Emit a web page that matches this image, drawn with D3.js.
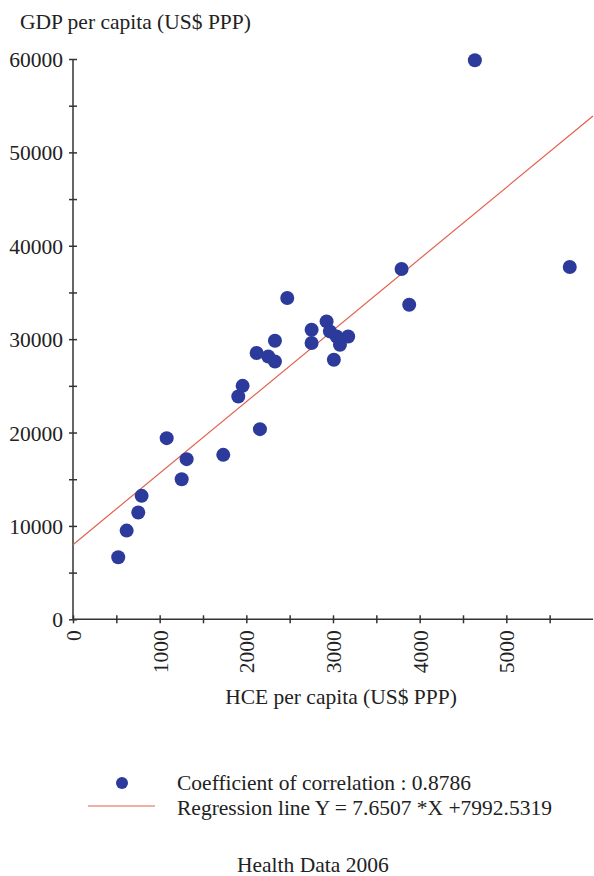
<!DOCTYPE html>
<html>
<head>
<meta charset="utf-8">
<script src="https://cdn.jsdelivr.net/npm/d3@7"></script>
<style>
  body { margin: 0; background: #fff; }
  svg text { font-family: "Liberation Serif", "Times New Roman", serif; fill: #222; }
</style>
</head>
<body>
<svg id="chart"></svg>
<script>
// HCE vs GDP per capita
var hce = [522, 619, 753, 792, 1081, 1254, 1311, 1734, 1907, 1957, 2157, 2119, 2253, 2330,
           2330, 2472, 2753, 2753, 2926, 2964, 3042, 3080, 3175, 3010, 3791, 3879, 4637, 5732];
var gdp = [6650, 9500, 11430, 13220, 19400, 15000, 17150, 17610, 23860, 25000, 20360, 28510, 28150, 27610,
           29830, 34400, 31010, 29580, 31900, 30830, 30290, 29400, 30290, 27790, 37510, 33690, 59870, 37730];

var xMajor = [0, 1000, 2000, 3000, 4000, 5000];
var xTicks = [0, 500, 1000, 1500, 2000, 2500, 3000, 3500, 4000, 4500, 5000, 5500];
var yMajor = [0, 10000, 20000, 30000, 40000, 50000, 60000];
var yTicks = [0, 5000, 10000, 15000, 20000, 25000, 30000, 35000, 40000, 45000, 50000, 55000, 60000];

var slope = 7.6507, intercept = 7992.5319;
var corr = "0.8786";

var fs = "21.5px";

var svg = d3.select("#chart").attr("width", 594).attr("height", 876);

var x = d3.scaleLinear().domain([0, 6000]).range([73, 593]);
var y = d3.scaleLinear().domain([0, 60000]).range([619.3, 59]);

// axes
var xAxis = svg.append("g")
  .attr("transform", "translate(0," + y(0) + ")")
  .call(d3.axisBottom(x).tickValues(xTicks).tickSize(4)
    .tickFormat(function(d) { return xMajor.indexOf(d) >= 0 ? d : ""; }));
xAxis.select(".domain").attr("d", "M" + x(0) + ",0H" + x(6000)).attr("stroke", "#333").attr("stroke-width", 1.5);
xAxis.selectAll(".tick line").attr("y1", -4).attr("y2", 4).attr("stroke", "#333").attr("stroke-width", 1.5);
xAxis.selectAll(".tick text")
  .attr("transform", "rotate(-90)")
  .attr("x", -11).attr("y", 0).attr("dy", "0.35em")
  .style("text-anchor", "end")
  .style("font-size", fs);

var yAxis = svg.append("g")
  .attr("transform", "translate(" + x(0) + ",0)")
  .call(d3.axisLeft(y).tickValues(yTicks).tickSize(4)
    .tickFormat(function(d) { return yMajor.indexOf(d) >= 0 ? d : ""; }));
yAxis.select(".domain").attr("d", "M0," + y(0) + "V" + y(60000)).attr("stroke", "#333").attr("stroke-width", 1.5);
yAxis.selectAll(".tick line").attr("x1", -4).attr("x2", 4).attr("stroke", "#333").attr("stroke-width", 1.5);
yAxis.selectAll(".tick text")
  .attr("x", -10).attr("dy", "0.35em")
  .style("font-size", fs);
svg.selectAll(".tick text").style("font-family", "Liberation Serif").attr("fill", "#222");

// regression line
svg.append("line")
  .attr("x1", x(0)).attr("y1", y(intercept))
  .attr("x2", x(6000)).attr("y2", y(slope * 6000 + intercept))
  .attr("stroke", "#e2604f").attr("stroke-width", 1.2);

// points
svg.selectAll("circle.pt")
  .data(d3.range(hce.length)).enter()
  .append("circle")
  .attr("class", "pt")
  .attr("cx", function(i) { return x(hce[i]); })
  .attr("cy", function(i) { return y(gdp[i]); })
  .attr("r", 7)
  .attr("fill", "#2b3a9b");

// titles
svg.append("text").attr("x", 20).attr("y", 29).style("font-size", fs)
  .text("GDP per capita (US$ PPP)");
svg.append("text").attr("x", 341).attr("y", 704).attr("text-anchor", "middle").style("font-size", fs)
  .text("HCE per capita (US$ PPP)");

// legend
svg.append("circle").attr("cx", 122).attr("cy", 783).attr("r", 6).attr("fill", "#2b3a9b");
svg.append("line").attr("x1", 88).attr("x2", 155).attr("y1", 806).attr("y2", 806)
  .attr("stroke", "#e2604f").attr("stroke-width", 1.2);
svg.append("text").attr("x", 177).attr("y", 790).style("font-size", fs)
  .text("Coefficient of correlation : " + corr);
svg.append("text").attr("x", 177).attr("y", 814.5).style("font-size", fs)
  .text("Regression line Y = " + slope + " *X +" + intercept);

svg.append("text").attr("x", 237).attr("y", 872).style("font-size", fs)
  .text("Health Data 2006");
</script>
</body>
</html>
